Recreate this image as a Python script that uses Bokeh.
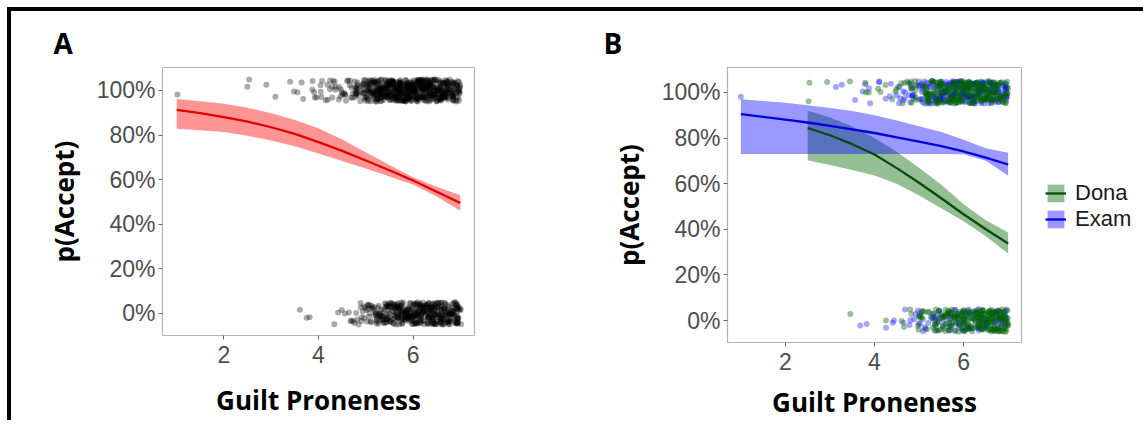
import numpy as np
from bokeh.plotting import figure
from bokeh.models import Range1d, FixedTicker, NumeralTickFormatter, Legend, LegendItem, ColumnDataSource
from bokeh.layouts import row
from bokeh.transform import jitter
from bokeh.embed import file_html
from bokeh.resources import INLINE

# ---------------- data ----------------
x_ticks = [2, 4, 6]
y_ticks = [0, 0.2, 0.4, 0.6, 0.8, 1.0]
x_label = "Guilt Proneness"
y_label = "p(Accept)"

# Panel A: fitted probability and ribbon
fit_x_A = [1.0, 1.5, 2.0, 2.5, 3.0, 3.5, 4.0, 4.5, 5.0, 5.5, 6.0, 6.5, 7.0]
fit_A = [0.913, 0.898, 0.880, 0.860, 0.835, 0.805, 0.768, 0.729, 0.686, 0.642, 0.596, 0.546, 0.495]
upr_A = [0.962, 0.952, 0.940, 0.922, 0.898, 0.868, 0.830, 0.780, 0.723, 0.666, 0.611, 0.568, 0.530]
lwr_A = [0.828, 0.822, 0.814, 0.797, 0.776, 0.750, 0.717, 0.684, 0.650, 0.614, 0.578, 0.524, 0.460]

# Panel A: responses (guilt proneness level, number of responses)
acc_x_A = [1.0, 2.45, 2.55, 2.85, 3.1, 3.35, 3.45, 3.6, 3.7, 3.85, 3.95, 4.05, 4.15, 4.25, 4.35,
           4.45, 4.55, 4.65, 4.75, 4.85, 4.95, 5.05, 5.15, 5.25, 5.35, 5.45, 5.55, 5.65, 5.75,
           5.85, 5.95, 6.05, 6.15, 6.25, 6.35, 6.45, 6.55, 6.65, 6.75, 6.85, 6.95]
acc_n_A = [1, 1, 1, 1, 1, 1, 1, 2, 1, 2, 3, 4, 3, 4, 4,
           5, 5, 6, 8, 10, 14, 20, 22, 25, 28, 30, 32, 34, 34,
           35, 35, 35, 34, 33, 32, 30, 28, 26, 24, 22, 20]
rej_x_A = [3.65, 3.75, 3.8, 4.3, 4.4, 4.45, 4.6, 4.7, 4.8, 4.9, 5.0, 5.1, 5.2, 5.3, 5.4, 5.5,
           5.6, 5.7, 5.8, 5.9, 6.0, 6.1, 6.2, 6.3, 6.4, 6.5, 6.6, 6.7, 6.8, 6.9, 6.97]
rej_n_A = [1, 1, 1, 1, 1, 1, 2, 3, 4, 5, 7, 9, 11, 14, 16, 18,
           20, 22, 23, 24, 25, 25, 25, 25, 25, 24, 23, 22, 21, 20, 16]

# Panel B: fitted curves per condition
groups_B = ["Dona", "Exam"]
fit_x_exam = [1.0, 1.5, 2.0, 2.5, 3.0, 3.5, 4.0, 4.5, 5.0, 5.5, 6.0, 6.5, 7.0]
fit_exam = [0.905, 0.893, 0.881, 0.868, 0.853, 0.838, 0.822, 0.803, 0.784, 0.764, 0.741, 0.714, 0.684]
upr_exam = [0.970, 0.962, 0.954, 0.944, 0.932, 0.918, 0.900, 0.877, 0.852, 0.826, 0.792, 0.755, 0.735]
lwr_exam = [0.730, 0.730, 0.730, 0.730, 0.730, 0.730, 0.730, 0.730, 0.730, 0.730, 0.729, 0.700, 0.635]

fit_x_dona = [2.5, 3.0, 3.5, 4.0, 4.5, 5.0, 5.5, 6.0, 6.5, 7.0]
fit_dona = [0.844, 0.812, 0.773, 0.728, 0.668, 0.604, 0.536, 0.466, 0.400, 0.338]
upr_dona = [0.920, 0.890, 0.850, 0.800, 0.740, 0.670, 0.595, 0.510, 0.440, 0.386]
lwr_dona = [0.703, 0.682, 0.660, 0.636, 0.600, 0.548, 0.492, 0.435, 0.370, 0.294]

# Panel B: responses (level, count)
acc_x_exam = [1.0, 3.1, 3.3, 3.5, 3.7, 3.9, 4.1, 4.3, 4.5, 4.7, 4.9, 5.1, 5.3, 5.5, 5.7, 5.9, 6.1, 6.3, 6.5, 6.7, 6.9]
acc_n_exam = [1, 1, 1, 1, 2, 2, 2, 3, 4, 6, 9, 15, 19, 23, 25, 26, 26, 25, 24, 23, 20]
acc_x_dona = [2.5, 2.9, 3.5, 3.7, 3.9, 4.1, 4.3, 4.5, 4.7, 4.9, 5.1, 5.3, 5.5, 5.7, 5.9, 6.1, 6.3, 6.5, 6.7, 6.9]
acc_n_dona = [2, 1, 1, 1, 2, 2, 2, 3, 5, 9, 14, 19, 23, 25, 28, 28, 28, 27, 24, 20]
rej_x_exam = [3.7, 3.9, 4.3, 4.5, 4.7, 4.9, 5.1, 5.3, 5.5, 5.7, 5.9, 6.1, 6.3, 6.5, 6.7, 6.9]
rej_n_exam = [1, 1, 1, 2, 3, 5, 6, 8, 9, 10, 10, 11, 11, 11, 11, 10]
rej_x_dona = [3.5, 4.3, 4.7, 4.9, 5.1, 5.3, 5.5, 5.7, 5.9, 6.1, 6.3, 6.5, 6.7, 6.9]
rej_n_dona = [1, 1, 2, 5, 8, 11, 15, 19, 23, 25, 28, 30, 33, 34]

# ---------------- helpers ----------------
TICK_FONT = "Liberation Sans"
LABEL_FONT = "Open Sans"


def responses(acc_x, acc_n, rej_x, rej_n):
    xs = np.concatenate([np.repeat(acc_x, acc_n), np.repeat(rej_x, rej_n)])
    ys = np.concatenate([np.ones(int(np.sum(acc_n))), np.zeros(int(np.sum(rej_n)))])
    return ColumnDataSource(dict(x=xs, y=ys))


def make_fig(title, yr, fw, fh, mbl, mbr, mbt, toff, xls):
    p = figure(title=title, x_range=Range1d(0.7, 7.3), y_range=Range1d(*yr),
               frame_width=fw, frame_height=fh,
               min_border_left=mbl, min_border_right=mbr, min_border_top=mbt, min_border_bottom=40,
               output_backend="svg", toolbar_location=None,
               background_fill_color="white", border_fill_color="white")
    p.title.text_font = LABEL_FONT
    p.title.text_font_size = "28px"
    p.title.text_font_style = "bold"
    p.title.text_color = "black"
    p.title.align = "left"
    p.title.offset = toff
    p.title.standoff = 12
    p.grid.visible = False
    p.outline_line_color = "#b3b3b3"
    p.outline_line_width = 1.2
    p.xaxis.ticker = FixedTicker(ticks=x_ticks)
    p.yaxis.ticker = FixedTicker(ticks=y_ticks)
    p.yaxis.formatter = NumeralTickFormatter(format="0%")
    p.xaxis.axis_label = x_label
    p.yaxis.axis_label = y_label
    for ax in (p.xaxis, p.yaxis):
        ax.axis_line_color = None
        ax.major_tick_line_color = "#666666"
        ax.major_tick_in = 0
        ax.major_tick_out = 4
        ax.minor_tick_line_color = None
        ax.major_label_text_font = TICK_FONT
        ax.major_label_text_font_size = "23px"
        ax.major_label_text_color = "#4d4d4d"
        ax.axis_label_text_font = LABEL_FONT
        ax.axis_label_text_font_size = "26px"
        ax.axis_label_text_font_style = "bold"
        ax.axis_label_text_color = "black"
    p.xaxis.major_label_standoff = 6
    p.xaxis.axis_label_standoff = xls
    p.yaxis.major_label_standoff = 3
    p.yaxis.axis_label_standoff = 12
    return p


# ---------------- panel A ----------------
pA = make_fig("A", (-0.099, 1.103), 312, 268, 151, 106, 56, -109, 16)
srcA = responses(acc_x_A, acc_n_A, rej_x_A, rej_n_A)
pA.scatter(x=jitter("x", 0.1), y=jitter("y", 0.1), source=srcA, size=6,
           fill_color="black", fill_alpha=0.33, line_color=None)
pA.varea(x=fit_x_A, y1=lwr_A, y2=upr_A, fill_color="red", fill_alpha=0.42)
pA.line(x=fit_x_A, y=fit_A, line_color="#e00000", line_width=2.3)

# ---------------- panel B ----------------
pB = make_fig("B", (-0.096, 1.109), 294, 275, 147, 114, 51, -124, 11)
src_exam = responses(acc_x_exam, acc_n_exam, rej_x_exam, rej_n_exam)
src_dona = responses(acc_x_dona, acc_n_dona, rej_x_dona, rej_n_dona)
pB.scatter(x=jitter("x", 0.2), y=jitter("y", 0.1), source=src_exam, size=6,
           fill_color="blue", fill_alpha=0.35, line_color=None)
pB.scatter(x=jitter("x", 0.2), y=jitter("y", 0.1), source=src_dona, size=6,
           fill_color="darkgreen", fill_alpha=0.4, line_color=None)
g_band = pB.varea(x=fit_x_dona, y1=lwr_dona, y2=upr_dona, fill_color="darkgreen", fill_alpha=0.42)
b_band = pB.varea(x=fit_x_exam, y1=lwr_exam, y2=upr_exam, fill_color="blue", fill_alpha=0.4)
g_line = pB.line(x=fit_x_dona, y=fit_dona, line_color="#0a4a0a", line_width=2.3)
b_line = pB.line(x=fit_x_exam, y=fit_exam, line_color="#0000e0", line_width=2.3)

legend = Legend(items=[LegendItem(label=groups_B[0], renderers=[g_band, g_line]),
                       LegendItem(label=groups_B[1], renderers=[b_band, b_line])],
                location=(24, 110), padding=0, margin=0, spacing=0,
                glyph_width=21, glyph_height=22, label_standoff=9, label_height=22,
                label_text_font=TICK_FONT, label_text_font_size="22px", label_text_color="#1a1a1a",
                border_line_alpha=0, background_fill_alpha=0)
pB.add_layout(legend, "right")

layout = row(pA, pB, styles={"margin-top": "7px", "margin-left": "7px",
                             "border-top": "4px solid black", "border-left": "4px solid black"})

open("out.html", "w").write(file_html(layout, INLINE))
